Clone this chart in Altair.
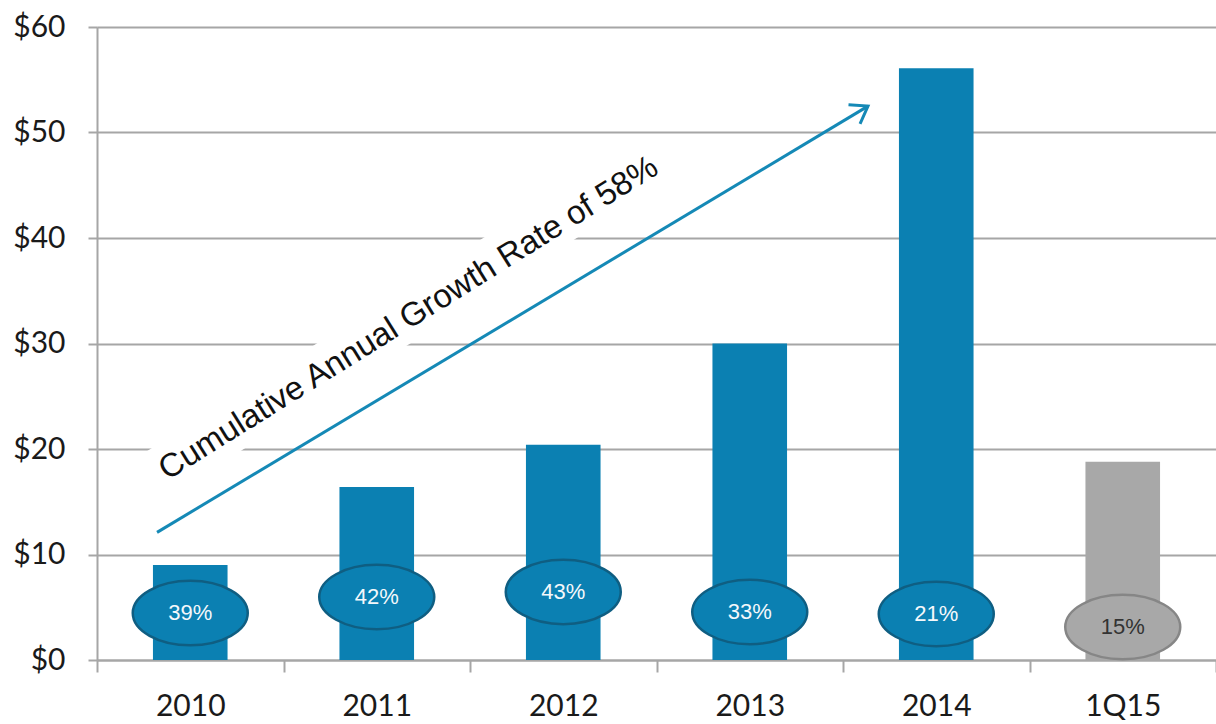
import altair as alt
import pandas as pd

# ---- data ----
categories = ["2010", "2011", "2012", "2013", "2014", "1Q15"]
revenue = [9.0, 16.4, 20.4, 30.0, 56.1, 18.8]
period_kind = ["annual", "annual", "annual", "annual", "annual", "quarter"]
growth_labels = ["39%", "42%", "43%", "33%", "21%", "15%"]
label_y = [4.45, 5.97, 6.45, 4.55, 4.36, 3.13]
y_ticks = [0, 10, 20, 30, 40, 50, 60]

note_text = "Cumulative Annual Growth Rate of 58%"
# annotation anchors in (category index, $ value) units
arrow_x = [-0.178, 3.634]
arrow_y = [12.1, 52.5]
box_x = [-0.178, 2.50]
box_y = [17.6, 47.6]
note_x = [1.17]
note_y = [32.4]

BLUE = "#0b80b2"
BLUE_EDGE = "#0f5e82"
GREY = "#a8a8a8"
GREY_EDGE = "#868686"
GRID = "#a6a6a6"

bars_df = pd.DataFrame({"cat": categories, "value": revenue, "kind": period_kind})
ell_df = pd.DataFrame({
    "idx": list(range(len(categories))),
    "y": label_y,
    "label": growth_labels,
    "kind": period_kind,
})
arrow_df = pd.DataFrame({"x": [arrow_x[0]], "x2": [arrow_x[1]], "y": [arrow_y[0]], "y2": [arrow_y[1]]})
head_df = pd.DataFrame({"x": [arrow_x[1]], "y": [arrow_y[1]]})
box_df = pd.DataFrame({"x": [box_x[0]], "x2": [box_x[1]], "y": [box_y[0]], "y2": [box_y[1]]})
note_df = pd.DataFrame({"x": note_x, "y": note_y, "t": [note_text]})

yscale = alt.Scale(domain=[0, 60], nice=False, zero=True)
xq = alt.Scale(domain=[-0.5, len(categories) - 0.5], nice=False, zero=False)

yaxis = alt.Axis(
    values=y_ticks, labelExpr="'$' + datum.value", title=None,
    grid=True, gridColor=GRID, gridWidth=2,
    domainColor=GRID, domainWidth=2, tickColor=GRID, tickWidth=2, tickSize=9,
    labelPadding=23, labelFont="Lato", labelFontSize=30, labelColor="#1a1a1a",
)


def Y(field):
    return alt.Y(field, scale=yscale, axis=yaxis, title=None)


bars = alt.Chart(bars_df).mark_bar(width={"band": 0.4}).encode(
    x=alt.X("cat:N", sort=categories, title=None,
            scale=alt.Scale(paddingInner=0, paddingOuter=0),
            axis=alt.Axis(tickBand="extent", labelAngle=0, grid=False,
                          domainColor=GRID, domainWidth=2, tickColor=GRID, tickWidth=2,
                          tickSize=12, labelPadding=19, labelFont="Lato", labelFontSize=30,
                          labelColor="#1a1a1a")),
    y=Y("value:Q"),
    color=alt.Color("kind:N", scale=alt.Scale(domain=["annual", "quarter"], range=[BLUE, GREY]), legend=None),
)

box = alt.Chart(box_df).mark_rule(color="white", strokeWidth=50, strokeCap="butt").encode(
    x=alt.X("x:Q", scale=xq, axis=None), x2="x2:Q",
    y=Y("y:Q"), y2="y2:Q",
)

note = alt.Chart(note_df).mark_text(
    angle=328, fontSize=33, font="Liberation Sans", color="#111111",
    align="center", baseline="middle",
).encode(
    x=alt.X("x:Q", scale=xq, axis=None),
    y=Y("y:Q"),
    text="t:N",
)

arrow = alt.Chart(arrow_df).mark_rule(color="#1589b6", strokeWidth=3).encode(
    x=alt.X("x:Q", scale=xq, axis=None), x2="x2:Q",
    y=Y("y:Q"), y2="y2:Q",
)

head = alt.Chart(head_df).mark_point(
    shape="M -1 -0.7 L 0 0 L -1 0.7", size=1024, angle=329, filled=False,
    stroke="#1589b6", strokeWidth=3, opacity=1,
).encode(
    x=alt.X("x:Q", scale=xq, axis=None),
    y=Y("y:Q"),
)

ELLIPSE = ("M 1 0 C 1 0.309 0.552 0.56 0 0.56 C -0.552 0.56 -1 0.309 -1 0 "
           "C -1 -0.309 -0.552 -0.56 0 -0.56 C 0.552 -0.56 1 -0.309 1 0 Z")

ellipses = alt.Chart(ell_df).mark_point(
    shape=ELLIPSE, size=13225, filled=True, strokeWidth=2.5, opacity=1,
).encode(
    x=alt.X("idx:Q", scale=xq, axis=None),
    y=Y("y:Q"),
    fill=alt.Fill("kind:N", scale=alt.Scale(domain=["annual", "quarter"], range=[BLUE, GREY]), legend=None),
    stroke=alt.Stroke("kind:N", scale=alt.Scale(domain=["annual", "quarter"], range=[BLUE_EDGE, GREY_EDGE]), legend=None),
)

ell_text = alt.Chart(ell_df).mark_text(
    fontSize=22, font="Liberation Sans", align="center", baseline="middle",
).encode(
    x=alt.X("idx:Q", scale=xq, axis=None),
    y=Y("y:Q"),
    text="label:N",
    color=alt.Color("kind:N", scale=alt.Scale(domain=["annual", "quarter"], range=["#f4f8fb", "#333333"]), legend=None),
)

chart = alt.layer(bars, box, note, arrow, head, ellipses, ell_text).resolve_scale(
    x="independent", fill="independent", stroke="independent", color="independent"
).properties(
    width=1119, height=633,
    autosize=alt.AutoSizeParams(type="none"),
    padding={"left": 97, "top": 27, "right": 0, "bottom": 60},
).configure_view(stroke=None).configure(background="white")

chart.save("out.html", embed_options={"renderer": "svg", "actions": False})
